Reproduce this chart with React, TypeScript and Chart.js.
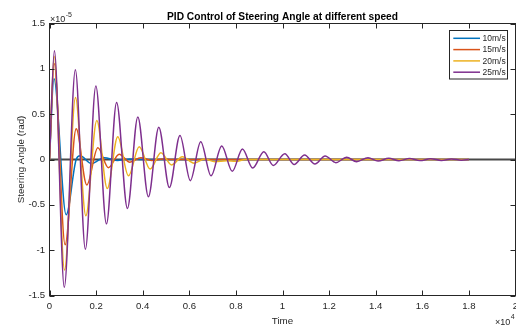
import React, { useEffect, useRef } from 'react';
import { Chart, registerables } from 'chart.js';

Chart.register(...registerables);

// ---- data (time in raw units, steering angle in units of 1e-5 rad) ----
const seriesLabels = ['10m/s', '15m/s', '20m/s', '25m/s'];
const seriesColors = ['#0072BD', '#D95319', '#EDB120', '#7E2F8E'];

const time10 = [0, 190, 715, 1145, 1315, 1800, 2350, 2900, 3450, 4000, 18000];
const angle10 = [0, 0.89, -0.61, 0, 0.04, -0.045, 0.02, -0.01, 0.005, 0, 0];

const time15 = [0, 200, 670, 1145, 1600, 2075, 2530, 2990, 3450, 3920, 4380, 4850, 5300, 18000];
const angle15 = [0, 1.06, -0.94, 0.34, -0.28, 0.13, -0.09, 0.057, -0.03, 0.02, -0.01, 0.005, 0, 0];

const time20 = [0, 200, 645, 1115, 1560, 2030, 2480, 2930, 3390, 3850, 4320, 4780, 5245, 5700, 6200, 6650, 7100, 7600, 8000, 8400, 18000];
const angle20 = [0, 1.14, -1.22, 0.685, -0.62, 0.43, -0.32, 0.25, -0.18, 0.14, -0.105, 0.075, -0.06, 0.03, -0.04, 0.005, -0.025, -0.015, -0.02, 0, 0];

const time25 = [0, 210, 635, 1110, 1540, 1990, 2445, 2880, 3345, 3790, 4245, 4690, 5145, 5600, 6045, 6490, 6935, 7390, 7845, 8280, 8720, 9200, 9600, 10100, 10500, 10950, 11390, 11830, 12290, 12750, 13180, 13670, 14100, 14560, 15000, 15450, 15900, 16350, 16820, 17250, 17680, 18000];
const angle25 = [0, 1.2, -1.41, 0.99, -0.99, 0.81, -0.71, 0.63, -0.54, 0.47, -0.41, 0.355, -0.31, 0.265, -0.233, 0.196, -0.18, 0.15, -0.13, 0.116, -0.095, 0.086, -0.065, 0.064, -0.055, 0.05, -0.05, 0.039, -0.035, 0.024, -0.024, 0.02, -0.017, 0.013, -0.013, 0.01, -0.012, 0.008, -0.01, 0.006, -0.008, 0];

const zeroLineTime = [0, 20000];
const zeroLineValue = [0, 0];

const xTickValues = [0, 2000, 4000, 6000, 8000, 10000, 12000, 14000, 16000, 18000, 20000];
const yTickValues = [-1.5, -1, -0.5, 0, 0.5, 1, 1.5];

const titleText = 'PID Control of Steering Angle at different speed';
const xTitle = 'Time';
const yTitle = 'Steering Angle (rad)';

const FONT = '"Liberation Sans", Arial, Helvetica, sans-serif';
const AXIS_COLOR = '#262626';

const toPoints = (t: number[], v: number[]) => t.map((x, i) => ({ x, y: v[i] }));

const decorPlugin = {
  id: 'decor',
  afterDraw(chart: any) {
    const { ctx, chartArea: a, scales } = chart;
    const xs = scales.x;
    const ys = scales.y;
    ctx.save();
    // box
    ctx.strokeStyle = AXIS_COLOR;
    ctx.lineWidth = 1;
    ctx.strokeRect(a.left, a.top, a.right - a.left, a.bottom - a.top);
    // inward ticks
    const tl = 5;
    ctx.beginPath();
    xTickValues.forEach((v) => {
      const px = Math.round(xs.getPixelForValue(v)) + 0.5;
      ctx.moveTo(px, a.bottom);
      ctx.lineTo(px, a.bottom - tl);
      ctx.moveTo(px, a.top);
      ctx.lineTo(px, a.top + tl);
    });
    yTickValues.forEach((v) => {
      const py = Math.round(ys.getPixelForValue(v)) + 0.5;
      ctx.moveTo(a.left, py);
      ctx.lineTo(a.left + tl, py);
      ctx.moveTo(a.right, py);
      ctx.lineTo(a.right - tl, py);
    });
    ctx.stroke();

    // title
    ctx.fillStyle = '#000000';
    ctx.font = `bold 10.2px ${FONT}`;
    ctx.textAlign = 'center';
    ctx.textBaseline = 'alphabetic';
    ctx.fillText(titleText, (a.left + a.right) / 2, 19.5);

    // exponent labels
    ctx.fillStyle = AXIS_COLOR;
    ctx.textAlign = 'left';
    ctx.font = `9px ${FONT}`;
    ctx.fillText('\u00d710', 50, 21.7);
    let w = ctx.measureText('\u00d710').width;
    ctx.font = `7px ${FONT}`;
    ctx.fillText('-5', 50 + w + 0.5, 17.3);

    ctx.font = `9px ${FONT}`;
    ctx.fillText('\u00d710', 495, 325);
    w = ctx.measureText('\u00d710').width;
    ctx.font = `7px ${FONT}`;
    ctx.fillText('4', 495 + w + 0.5, 318.5);

    // legend
    const lx = 449.5, ly = 30.5, lw = 58, lh = 48.5;
    ctx.fillStyle = '#ffffff';
    ctx.fillRect(lx, ly, lw, lh);
    ctx.strokeStyle = AXIS_COLOR;
    ctx.lineWidth = 1;
    ctx.strokeRect(lx, ly, lw, lh);
    ctx.font = `8.5px ${FONT}`;
    ctx.textBaseline = 'middle';
    seriesLabels.forEach((label, i) => {
      const ry = 38.3 + i * 11.3;
      ctx.strokeStyle = seriesColors[i];
      ctx.lineWidth = 1.5;
      ctx.beginPath();
      ctx.moveTo(453.3, ry);
      ctx.lineTo(480, ry);
      ctx.stroke();
      ctx.fillStyle = AXIS_COLOR;
      ctx.fillText(label, 482.5, ry + 0.5);
    });
    ctx.restore();
  },
};

export default function App() {
  const canvasRef = useRef<HTMLCanvasElement | null>(null);

  useEffect(() => {
    if (!canvasRef.current) return;
    const seriesData = [
      toPoints(time10, angle10),
      toPoints(time15, angle15),
      toPoints(time20, angle20),
      toPoints(time25, angle25),
    ];
    const datasets: any[] = seriesData.map((d, i) => ({
      label: seriesLabels[i],
      data: d,
      borderColor: seriesColors[i],
      backgroundColor: seriesColors[i],
      borderWidth: 1.5,
      pointRadius: 0,
      fill: false,
      cubicInterpolationMode: 'monotone',
      order: 4 - i,
    }));
    datasets.push({
      label: 'zero',
      data: toPoints(zeroLineTime, zeroLineValue),
      borderColor: 'rgba(40,40,40,0.85)',
      borderWidth: 2,
      pointRadius: 0,
      fill: false,
      order: 10,
    });

    const chart = new Chart(canvasRef.current, {
      type: 'line',
      data: { datasets },
      options: {
        responsive: false,
        animation: false,
        devicePixelRatio: 1,
        layout: { padding: { top: 23.5, right: 0.5, left: 0, bottom: 0 }, autoPadding: false },
        plugins: {
          legend: { display: false },
          title: { display: false },
          tooltip: { enabled: false },
        },
        scales: {
          x: {
            type: 'linear',
            min: 0,
            max: 20000,
            afterBuildTicks: (s: any) => {
              s.ticks = xTickValues.map((v) => ({ value: v }));
            },
            afterFit: (s: any) => {
              s.height = 30.5;
              s.paddingLeft = 0;
              s.paddingRight = 0;
            },
            grid: { display: false, drawTicks: false },
            border: { display: false },
            ticks: {
              autoSkip: false,
              maxRotation: 0,
              padding: 5,
              color: AXIS_COLOR,
              font: { family: FONT, size: 9.6 },
              callback: (v: any) => String(Math.round((Number(v) / 10000) * 10) / 10),
            },
            title: {
              display: true,
              text: xTitle,
              color: AXIS_COLOR,
              font: { family: FONT, size: 9.8, lineHeight: 1 },
              padding: { top: 0.5, bottom: 0 },
            },
          },
          y: {
            type: 'linear',
            min: -1.5,
            max: 1.5,
            afterBuildTicks: (s: any) => {
              s.ticks = yTickValues.map((v) => ({ value: v }));
            },
            afterFit: (s: any) => {
              s.width = 49.5;
              s.paddingTop = 0;
              s.paddingBottom = 0;
            },
            grid: { display: false, drawTicks: false },
            border: { display: false },
            ticks: {
              autoSkip: false,
              padding: 4.5,
              color: AXIS_COLOR,
              font: { family: FONT, size: 9.6 },
              callback: (v: any) => String(v),
            },
            title: {
              display: true,
              text: yTitle,
              color: AXIS_COLOR,
              font: { family: FONT, size: 9.8, lineHeight: 1.2 },
              padding: { top: 15.1, bottom: 0 },
            },
          },
        },
      } as any,
      plugins: [decorPlugin],
    });
    return () => chart.destroy();
  }, []);

  return (
    <div style={{ position: 'fixed', left: 0, top: 0, width: 516, height: 326, background: '#ffffff' }}>
      <canvas ref={canvasRef} width={516} height={326} style={{ display: 'block', width: 516, height: 326 }} />
    </div>
  );
}
